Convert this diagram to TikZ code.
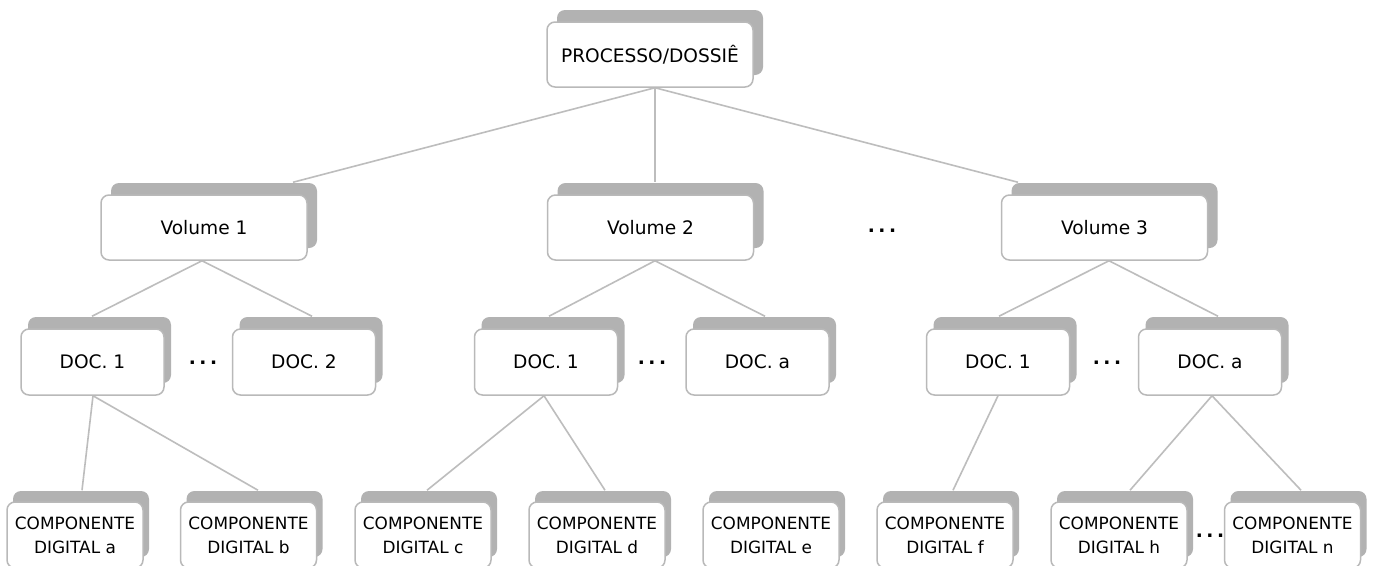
\documentclass[tikz,border=0pt]{standalone}
\usepackage{fontspec}
\setmainfont{DejaVu Sans}
\usetikzlibrary{calc}
\definecolor{shadowgray}{HTML}{B2B2B2}
\definecolor{bordergray}{HTML}{B9B9B9}
\definecolor{linegray}{HTML}{BDBDBD}
\pgfdeclarelayer{back}
\pgfdeclarelayer{lines}
\pgfsetlayers{back,lines,main}
\tikzset{
  front/.style={draw=bordergray, line width=1.5pt, fill=white, rounded corners=8pt, inner sep=0pt, align=center, text=black},
  shad/.style={fill=shadowgray, draw=none, rounded corners=8pt, inner sep=0pt},
  lvA/.style={minimum width=206pt, minimum height=65pt, font=\fontsize{18.6}{22}\selectfont},
  lvB/.style={minimum width=143pt, minimum height=66pt, font=\fontsize{18.6}{22}\selectfont},
  lvC/.style={minimum width=136pt, minimum height=66pt, font=\fontsize{16.9}{24}\selectfont},
  conn/.style={draw=linegray, line width=1.6pt},
  dotsnode/.style={inner sep=0pt, font=\fontsize{18.6}{22}\selectfont\bfseries, text=black}
}
% #1 level style, #2 name, #3 position, #4 text, #5 xshift, #6 yshift
\newcommand\myshbox[6]{%
  \node[shad,#1,xshift=#5,yshift=#6] (#2s) at (#3) {};
  \node[front,#1] (#2) at (#3) {#4};}
\begin{document}
\begin{tikzpicture}[x=1pt,y=-1pt]
\useasboundingbox (0,0) rectangle (1373,565);
\begin{pgfonlayer}{back}
\fill[white] (0,0) rectangle (1373,565);
\end{pgfonlayer}
% level 0
\myshbox{lvA}{top}{650,54.5}{PROCESSO/DOSSIÊ}{10pt}{12pt}
% level 1
\myshbox{lvA}{v1}{204,227.5}{Volume 1}{10pt}{12pt}
\myshbox{lvA}{v2}{650.5,227.5}{Volume 2}{10pt}{12pt}
\myshbox{lvA}{v3}{1104.5,227.5}{Volume 3}{10pt}{12pt}
% level 2
\myshbox{lvB}{d11}{92.5,362}{DOC. 1}{7pt}{12pt}
\myshbox{lvB}{d12}{304,362}{DOC. 2}{7pt}{12pt}
\myshbox{lvB}{d21}{546,362}{DOC. 1}{7pt}{12pt}
\myshbox{lvB}{d2a}{757.5,362}{DOC. a}{7pt}{12pt}
\myshbox{lvB}{d31}{998,362}{DOC. 1}{7pt}{12pt}
\myshbox{lvB}{d3a}{1210,362}{DOC. a}{7pt}{12pt}
% level 3
\myshbox{lvC}{cda}{75,535}{COMPONENTE\\DIGITAL a}{6pt}{11pt}
\myshbox{lvC}{cdb}{248.5,535}{COMPONENTE\\DIGITAL b}{6pt}{11pt}
\myshbox{lvC}{cdc}{423,535}{COMPONENTE\\DIGITAL c}{6pt}{11pt}
\myshbox{lvC}{cdd}{597,535}{COMPONENTE\\DIGITAL d}{6pt}{11pt}
\myshbox{lvC}{cde}{771,535}{COMPONENTE\\DIGITAL e}{6pt}{11pt}
\myshbox{lvC}{cdf}{945,535}{COMPONENTE\\DIGITAL f}{6pt}{11pt}
\myshbox{lvC}{cdh}{1119,535}{COMPONENTE\\DIGITAL h}{6pt}{11pt}
\myshbox{lvC}{cdn}{1292.5,535}{COMPONENTE\\DIGITAL n}{6pt}{11pt}
% ellipses
\node[dotsnode] (dt0) at (882,231) {.\hspace{3.5pt}.\hspace{3.5pt}.};
\node[dotsnode] (dt1) at (203,363) {.\hspace{3.5pt}.\hspace{3.5pt}.};
\node[dotsnode] (dt2) at (652,363) {.\hspace{3.5pt}.\hspace{3.5pt}.};
\node[dotsnode] (dt3) at (1107,363) {.\hspace{3.5pt}.\hspace{3.5pt}.};
\node[dotsnode] (dt4) at (1210,536) {.\hspace{3.5pt}.\hspace{3.5pt}.};
% connectors
\begin{pgfonlayer}{lines}
\draw[conn] ([xshift=5pt]top.south) -- ([xshift=89pt,yshift=12pt]v1.north);
\draw[conn] ([xshift=5pt]top.south) -- ([xshift=4.5pt,yshift=12pt]v2.north);
\draw[conn] ([xshift=5pt]top.south) -- ([xshift=-86.5pt,yshift=12pt]v3.north);
\draw[conn] ([xshift=-2pt]v1.south) -- ([xshift=-0.5pt,yshift=12pt]d11.north);
\draw[conn] ([xshift=-2pt]v1.south) -- ([xshift=8pt,yshift=12pt]d12.north);
\draw[conn] ([xshift=4.5pt]v2.south) -- ([xshift=3pt,yshift=12pt]d21.north);
\draw[conn] ([xshift=4.5pt]v2.south) -- ([xshift=7.5pt,yshift=12pt]d2a.north);
\draw[conn] ([xshift=4.5pt]v3.south) -- ([xshift=1pt,yshift=12pt]d31.north);
\draw[conn] ([xshift=4.5pt]v3.south) -- ([xshift=8pt,yshift=12pt]d3a.north);
\draw[conn] ([xshift=0.5pt]d11.south) -- ([xshift=7pt,yshift=11pt]cda.north);
\draw[conn] ([xshift=0.5pt]d11.south) -- ([xshift=9.5pt,yshift=11pt]cdb.north);
\draw[conn] ([xshift=-2pt]d21.south) -- ([xshift=4pt,yshift=11pt]cdc.north);
\draw[conn] ([xshift=-2pt]d21.south) -- ([xshift=8pt,yshift=11pt]cdd.north);
\draw[conn] (d31.south) -- ([xshift=8pt,yshift=11pt]cdf.north);
\draw[conn] ([xshift=2pt]d3a.south) -- ([xshift=11pt,yshift=11pt]cdh.north);
\draw[conn] ([xshift=2pt]d3a.south) -- ([xshift=8.5pt,yshift=11pt]cdn.north);
\end{pgfonlayer}
\end{tikzpicture}
\end{document}
